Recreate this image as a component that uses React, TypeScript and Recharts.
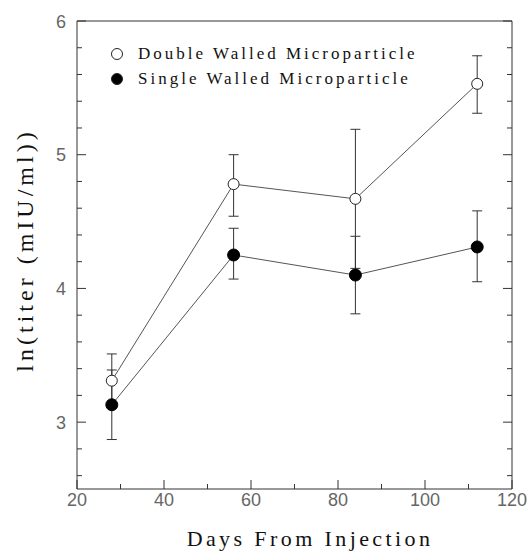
import { LineChart, Line, XAxis, YAxis, ErrorBar } from 'recharts'

const days = [28, 56, 84, 112]
const doubleMean = [3.31, 4.78, 4.67, 5.53]
const doubleErrLo = [0.2, 0.24, 0.52, 0.22]
const doubleErrHi = [0.2, 0.22, 0.52, 0.21]
const singleMean = [3.13, 4.25, 4.1, 4.31]
const singleErrLo = [0.26, 0.18, 0.29, 0.26]
const singleErrHi = [0.26, 0.2, 0.29, 0.27]

const xTicks = [20, 30, 40, 50, 60, 70, 80, 90, 100, 110, 120]
const yTicks = [2.6, 2.8, 3, 3.2, 3.4, 3.6, 3.8, 4, 4.2, 4.4, 4.6, 4.8, 5, 5.2, 5.4, 5.6, 5.8, 6]

const seriesNames = ['Double Walled Microparticle', 'Single Walled Microparticle']

const data = days.map((d, i) => ({
  day: d,
  dbl: doubleMean[i],
  dblErr: [doubleErrLo[i], doubleErrHi[i]],
  sgl: singleMean[i],
  sglErr: [singleErrLo[i], singleErrHi[i]],
}))

const axisColor = '#333'
const tickFont = { fontFamily: '"Liberation Sans", Arial, sans-serif', fontSize: 18, fill: '#666' }
const serif = '"Liberation Serif", "DejaVu Serif", serif'

const isMajorX = (v: number) => v % 20 === 0
const isMajorY = (v: number) => Math.abs(v - Math.round(v)) < 1e-6

function BottomTick({ x, y, payload }: any) {
  const major = isMajorX(payload.value)
  return (
    <g>
      <line x1={x} y1={y} x2={x} y2={y - (major ? 9 : 5)} stroke={axisColor} />
      {major && (
        <text x={x} y={y + 17} textAnchor="middle" style={tickFont}>{payload.value}</text>
      )}
    </g>
  )
}

function TopTick({ x, y, payload }: any) {
  const major = isMajorX(payload.value)
  return <line x1={x} y1={y} x2={x} y2={y + (major ? 9 : 5)} stroke={axisColor} />
}

function LeftTick({ x, y, payload }: any) {
  const major = isMajorY(payload.value)
  return (
    <g>
      <line x1={x} y1={y} x2={x + (major ? 9 : 5)} y2={y} stroke={axisColor} />
      {major && (
        <text x={x - 16} y={y + 6.5} textAnchor="middle" style={tickFont}>{Math.round(payload.value)}</text>
      )}
    </g>
  )
}

function RightTick({ x, y, payload }: any) {
  const major = isMajorY(payload.value)
  return <line x1={x} y1={y} x2={x - (major ? 9 : 5)} y2={y} stroke={axisColor} />
}

// legend drawn outside the chart so it doesn't shrink the plot area
function LegendBox() {
  const rows = [
    { name: seriesNames[0], fill: '#fff' },
    { name: seriesNames[1], fill: '#000' },
  ]
  return (
    <div style={{ position: 'absolute', top: 41, left: 110 }}>
      {rows.map((r) => (
        <div key={r.name} style={{ display: 'flex', alignItems: 'center', height: 25 }}>
          <svg width={14} height={14} style={{ marginRight: 14 }}>
            <circle cx={7} cy={7} r={5.5} fill={r.fill} stroke="#222" strokeWidth={1} />
          </svg>
          <span style={{ fontFamily: serif, fontSize: 17, letterSpacing: 3, color: '#111', whiteSpace: 'nowrap' }}>
            {r.name}
          </span>
        </div>
      ))}
    </div>
  )
}

const common = { type: 'number' as const, interval: 0, tickSize: 0, tickMargin: 0, tickLine: false, axisLine: { stroke: axisColor }, allowDataOverflow: true }

export default function App() {
  return (
    <div style={{ position: 'absolute', left: 0, top: 0, width: 532, height: 552, background: '#fff' }}>
      <LineChart width={532} height={552} data={data} margin={{ top: 20, right: 19, bottom: 62, left: 76 }}>
        <XAxis
          {...common}
          dataKey="day"
          domain={[20, 120]}
          ticks={xTicks}
          height={1}
          tick={<BottomTick />}
          label={{
            content: () => (
              <text x={310} y={546} textAnchor="middle" style={{ fontFamily: serif, fontSize: 22, letterSpacing: 3.4, fill: '#111' }}>
                Days From Injection
              </text>
            ),
          }}
        />
        <XAxis {...common} xAxisId="top" orientation="top" domain={[20, 120]} ticks={xTicks} height={1} tick={<TopTick />} />
        <YAxis
          {...common}
          domain={[2.5, 6]}
          ticks={yTicks}
          width={1}
          tick={<LeftTick />}
          label={{
            content: () => (
              <text
                x={33}
                y={250}
                textAnchor="middle"
                transform="rotate(-90 33 250)"
                style={{ fontFamily: serif, fontSize: 24, letterSpacing: 4, fill: '#111' }}
              >
                ln(titer (mIU/ml))
              </text>
            ),
          }}
        />
        <YAxis {...common} yAxisId="right" orientation="right" domain={[2.5, 6]} ticks={yTicks} width={1} tick={<RightTick />} />
        <Line
          type="linear"
          dataKey="dbl"
          name={seriesNames[0]}
          stroke="#555"
          strokeWidth={1}
          dot={{ r: 5.5, fill: '#fff', stroke: '#222', strokeWidth: 1 }}
          isAnimationActive={false}
        >
          <ErrorBar dataKey="dblErr" width={5} stroke="#333" strokeWidth={1} direction="y" isAnimationActive={false} />
        </Line>
        <Line
          type="linear"
          dataKey="sgl"
          name={seriesNames[1]}
          stroke="#555"
          strokeWidth={1}
          dot={{ r: 6, fill: '#000', stroke: '#000', strokeWidth: 1 }}
          isAnimationActive={false}
        >
          <ErrorBar dataKey="sglErr" width={5} stroke="#333" strokeWidth={1} direction="y" isAnimationActive={false} />
        </Line>
      </LineChart>
      <LegendBox />
    </div>
  )
}
